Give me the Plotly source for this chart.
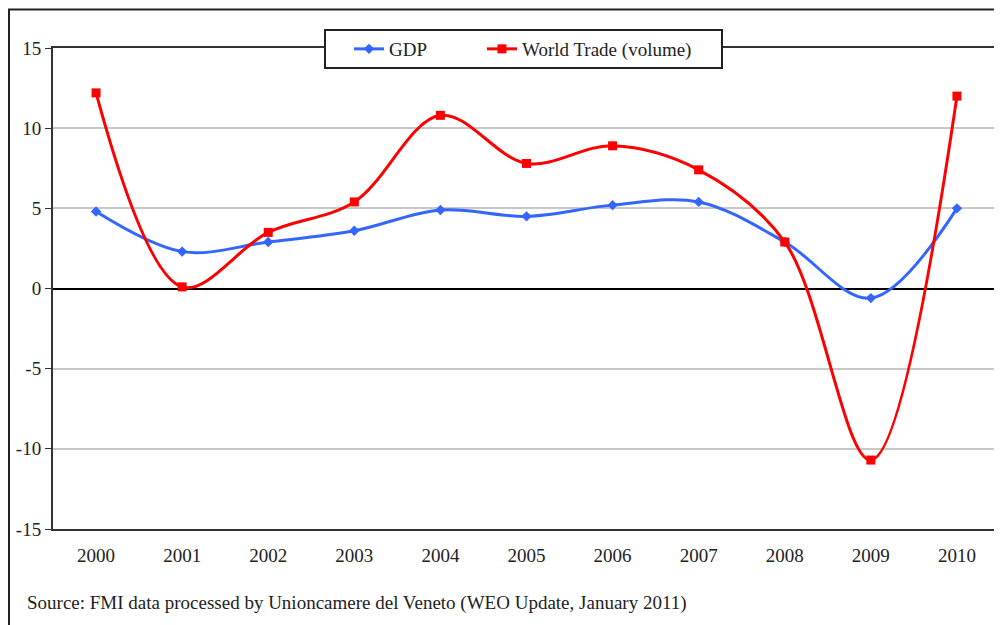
import plotly.graph_objects as go

years = ["2000", "2001", "2002", "2003", "2004", "2005", "2006", "2007", "2008", "2009", "2010"]
gdp = [4.8, 2.3, 2.9, 3.6, 4.9, 4.5, 5.2, 5.4, 2.9, -0.6, 5.0]
world_trade = [12.2, 0.1, 3.5, 5.4, 10.8, 7.8, 8.9, 7.4, 2.9, -10.7, 12.0]
y_ticks = [-15, -10, -5, 0, 5, 10, 15]
y_labels = ["-15", "-10", "-5", "0", "5", "10", "15"]

FONT = "Liberation Serif"
OFF = 8  # the page body has an 8px margin
W, H = 1002 - OFF, 625 - OFF
L, R, T, B = 53 - OFF, 2, 48 - OFF, 625 - 529
pw, ph = W - L - R, H - T - B


def px_x(x):
    # page pixel -> paper x
    return (x - OFF - L) / pw


def px_y(y):
    # page pixel -> paper y
    return (H - B - (y - OFF)) / ph


fig = go.Figure()
fig.add_trace(go.Scatter(
    x=years, y=gdp, name="GDP", mode="lines+markers",
    line=dict(color="#3366FF", width=3, shape="spline", smoothing=1),
    marker=dict(symbol="diamond", size=8, color="#3366FF"),
    legend="legend",
))
fig.add_trace(go.Scatter(
    x=years, y=world_trade, name="World Trade (volume)", mode="lines+markers",
    line=dict(color="#FF0000", width=3, shape="spline", smoothing=1),
    marker=dict(symbol="square", size=9, color="#FF0000"),
    legend="legend2",
))

legend_style = dict(
    orientation="h", xanchor="left", yanchor="middle", y=px_y(49),
    bgcolor="rgba(0,0,0,0)", borderwidth=0, itemwidth=30,
    font=dict(family=FONT, size=19, color="#222222"),
)

fig.update_layout(
    width=W, height=H,
    margin=dict(l=L, r=R, t=T, b=B, autoexpand=False),
    paper_bgcolor="white", plot_bgcolor="white",
    font=dict(family=FONT, size=19, color="#222222"),
    showlegend=True,
    legend=dict(legend_style, x=px_x(349)),
    legend2=dict(legend_style, x=px_x(482)),
    shapes=[
        dict(
            type="rect", xref="paper", yref="paper",
            x0=px_x(9), x1=px_x(1020), y0=px_y(650), y1=px_y(9.5),
            line=dict(color="#222222", width=2), layer="below",
        ),
        dict(
            type="rect", xref="paper", yref="paper",
            x0=px_x(325), x1=px_x(722), y0=px_y(68), y1=px_y(30),
            line=dict(color="#222222", width=2), fillcolor="white", layer="above",
        ),
    ],
    annotations=[dict(
        text="Source: FMI data processed by Unioncamere del Veneto (WEO Update, January 2011)",
        xref="paper", yref="paper", x=px_x(25), y=px_y(603),
        xanchor="left", yanchor="middle", showarrow=False,
        font=dict(family=FONT, size=19, color="#222222"),
    )],
)
fig.update_xaxes(
    type="category", range=[-0.5, 10.5],
    showline=True, linecolor="#333333", linewidth=2, mirror=True,
    showgrid=False, ticks="", ticklabelstandoff=8,
    tickfont=dict(family=FONT, size=19, color="#222222"),
)
fig.update_yaxes(
    range=[-15, 15], tickvals=y_ticks, ticktext=y_labels,
    showline=True, linecolor="#333333", linewidth=2, mirror=True,
    showgrid=True, gridcolor="#C8C8C8", gridwidth=2,
    zeroline=True, zerolinecolor="#000000", zerolinewidth=1.5,
    ticks="outside", ticklen=6, tickcolor="#333333",
    tickfont=dict(family=FONT, size=19, color="#222222"),
)

fig.write_html("out.html")
